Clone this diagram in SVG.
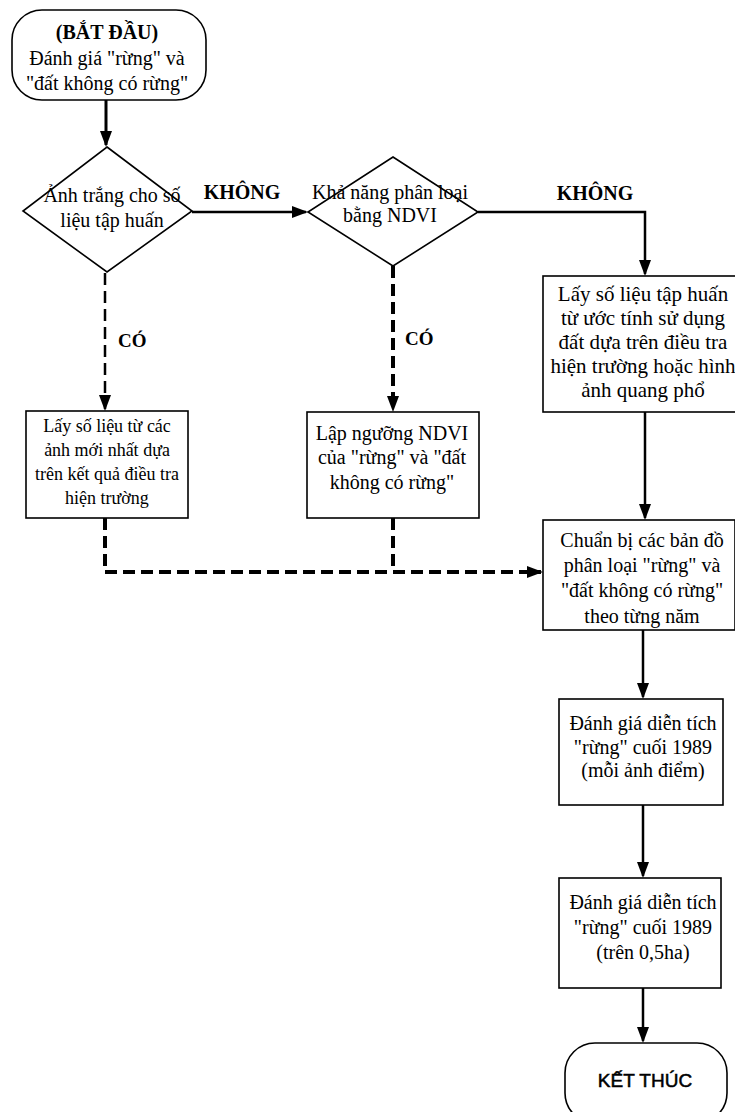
<svg xmlns="http://www.w3.org/2000/svg" width="735" height="1112" viewBox="0 0 735 1112">
<style>
.shape{fill:#fff;stroke:#000;stroke-width:1.6}
.t{font-family:"Liberation Serif","Times New Roman",serif;font-size:20px;fill:#000;text-anchor:middle}
.s{font-size:18px}
.l{font-size:21px}
.b{font-weight:bold}
.st{text-anchor:start}
.sans{font-family:"Liberation Sans",Arial,sans-serif;font-size:19px;stroke:#000;stroke-width:0.5}
.ln{stroke:#000;stroke-width:2.5;fill:none}
.d1{stroke-width:2.5;stroke-dasharray:12 6}
.d2{stroke-width:4;stroke-dasharray:12 6}
</style>
<defs>
<marker id="ah" viewBox="0 0 16 12" refX="14" refY="6" markerWidth="16" markerHeight="12" markerUnits="userSpaceOnUse" orient="auto">
<path d="M0,0 L16,6 L0,12 z" fill="#000"/>
</marker>
</defs>
<rect width="735" height="1112" fill="#fff"/>
<g id="connectors">
<line class="ln" x1="106" y1="100" x2="106" y2="145" style="stroke-width:3" marker-end="url(#ah)"/>
<line class="ln" x1="192" y1="212" x2="306" y2="212" marker-end="url(#ah)"/>
<polyline class="ln" points="478,212 645,212 645,274" marker-end="url(#ah)"/>
<line class="ln d1" x1="105" y1="273" x2="105" y2="409" marker-end="url(#ah)"/>
<line class="ln d2" x1="393" y1="266" x2="393" y2="410" marker-end="url(#ah)"/>
<polyline class="ln d2" points="105,518 105,572 541,572" marker-end="url(#ah)"/>
<line class="ln d2" x1="393" y1="518" x2="393" y2="572"/>
<line class="ln" x1="645" y1="412" x2="645" y2="518" marker-end="url(#ah)"/>
<line class="ln" x1="643" y1="630" x2="643" y2="697" marker-end="url(#ah)"/>
<line class="ln" x1="643" y1="805" x2="643" y2="876" marker-end="url(#ah)"/>
<line class="ln" x1="643" y1="988" x2="643" y2="1041" marker-end="url(#ah)"/>
<text class="t b" x="242" y="199">KHÔNG</text>
<text class="t b" x="595" y="200">KHÔNG</text>
<text class="t b st" x="118" y="347" style="font-size:19px">CÓ</text>
<text class="t b st" x="405" y="345" style="font-size:19px">CÓ</text>
</g>
<g id="start">
<rect class="shape" x="12" y="10" width="194" height="90" rx="30"/>
<text class="t b" x="107" y="39">(BẮT ĐẦU)</text>
<text class="t" x="107" y="65">Đánh giá "rừng" và</text>
<text class="t" x="107" y="90">"đất không có rừng"</text>
</g>
<g id="decision1">
<polygon class="shape" points="107,147 192,211 107,272 23,211"/>
<text class="t" x="112" y="202">Ảnh trắng cho số</text>
<text class="t" x="112" y="227">liệu tập huấn</text>
</g>
<g id="decision2">
<polygon class="shape" points="393,157 478,212 393,266 308,212"/>
<text class="t" x="390" y="199">Khả năng phân loại</text>
<text class="t" x="390" y="222">bằng NDVI</text>
</g>
<g id="box-training">
<rect class="shape" x="543" y="276" width="200" height="136"/>
<text class="t l" x="643" y="301">Lấy số liệu tập huấn</text>
<text class="t l" x="643" y="325">từ ước tính sử dụng</text>
<text class="t l" x="643" y="349">đất dựa trên điều tra</text>
<text class="t l" x="643" y="373">hiện trường hoặc hình</text>
<text class="t l" x="643" y="397">ảnh quang phổ</text>
</g>
<g id="box-latest">
<rect class="shape" x="26" y="411" width="162" height="107"/>
<text class="t s" x="107" y="432">Lấy số liệu từ các</text>
<text class="t s" x="107" y="456">ảnh mới nhất dựa</text>
<text class="t s" x="107" y="480">trên kết quả điều tra</text>
<text class="t s" x="107" y="504">hiện trường</text>
</g>
<g id="box-ndvi">
<rect class="shape" x="307" y="412" width="172" height="106"/>
<text class="t" x="392" y="440">Lập ngưỡng NDVI</text>
<text class="t" x="392" y="464">của "rừng" và "đất</text>
<text class="t" x="392" y="489">không có rừng"</text>
</g>
<g id="box-maps">
<rect class="shape" x="543" y="520" width="192" height="110"/>
<text class="t" x="642" y="547">Chuẩn bị các bản đồ</text>
<text class="t" x="642" y="572">phân loại "rừng" và</text>
<text class="t" x="642" y="597">"đất không có rừng"</text>
<text class="t" x="642" y="623">theo từng năm</text>
</g>
<g id="box-eval1">
<rect class="shape" x="559" y="699" width="164" height="106"/>
<text class="t" x="643" y="730">Đánh giá diễn tích</text>
<text class="t" x="643" y="754">"rừng" cuối 1989</text>
<text class="t" x="643" y="777">(mỗi ảnh điểm)</text>
</g>
<g id="box-eval2">
<rect class="shape" x="559" y="878" width="162" height="110"/>
<text class="t" x="643" y="909">Đánh giá diễn tích</text>
<text class="t" x="643" y="934">"rừng" cuối 1989</text>
<text class="t" x="643" y="959">(trên 0,5ha)</text>
</g>
<g id="end">
<rect class="shape" x="565" y="1043" width="162" height="80" rx="30"/>
<text class="t sans" x="645" y="1087">KẾT THÚC</text>
</g>
</svg>
